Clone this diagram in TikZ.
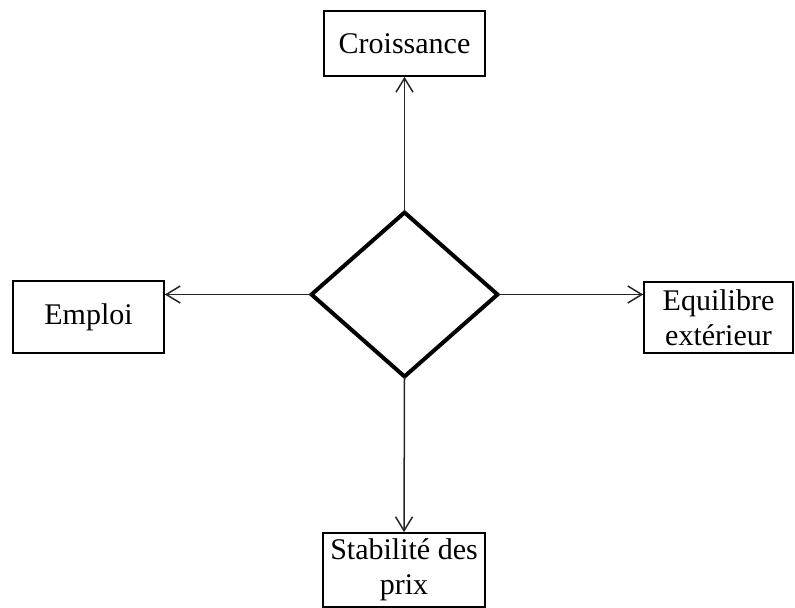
\documentclass[tikz,border=0pt]{standalone}
\usepackage{fontspec}
\setmainfont{Liberation Serif}
\usetikzlibrary{shapes.geometric,arrows.meta}

\begin{document}
\begin{tikzpicture}[x=0.5pt,y=-0.5pt,
	objectif/.style={draw,line width=0.8pt,inner sep=0pt,align=center,font=\fontsize{15}{17.5}\selectfont},
	fleche/.style={line width=0.75pt,black!85,-{Straight Barb[length=7pt,width=8.5pt]}}]
		\useasboundingbox (0,0) rectangle (795,608);
		\node[diamond,draw,line width=2pt,inner sep=0pt,outer sep=0pt,minimum width=93pt,minimum height=82pt] (carre) at (404.5,294.5) {};
		\node[objectif,minimum width=80.5pt,minimum height=32.5pt] (croissance) at (404.5,43.5) {Croissance};
		\node[objectif,minimum width=75.5pt,minimum height=36pt] (emploi) at (88.5,317) {Emploi};
		\node[objectif,minimum width=74.5pt,minimum height=35.5pt] (equilibre) at (718.5,317.5) {Equilibre\\extérieur};
		\node[objectif,minimum width=81pt,minimum height=37pt] (stabilite) at (404,570) {Stabilité des\\prix};
		\draw[fleche] (carre.north) -- (croissance.south);
		\draw[fleche] (carre.west) -- (carre.west -| emploi.east);
		\draw[fleche] (carre.east) -- (carre.east -| equilibre.west);
		\draw[fleche] (carre.south) -- (stabilite.north);
	\end{tikzpicture}
\end{document}
